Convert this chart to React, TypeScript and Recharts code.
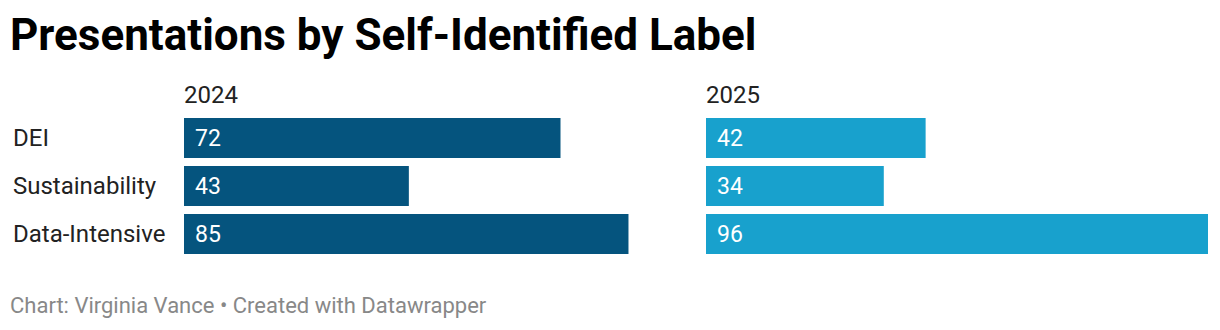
import { BarChart, Bar, XAxis, YAxis, LabelList } from 'recharts';

const categories = ['DEI', 'Sustainability', 'Data-Intensive'];
const values2024 = [72, 43, 85];
const values2025 = [42, 34, 96];
const years = ['2024', '2025'];

const COLORS = ['#05547e', '#18a1cd'];
const FONT = 'Roboto, sans-serif';

const data = categories.map((name, i) => ({
  name,
  y2024: values2024[i],
  y2025: values2025[i],
}));

const LeftTick = ({ y, payload }: { y?: number; payload?: { value: string } }) => (
  <text
    x={13}
    y={y}
    dy={8}
    textAnchor='start'
    fill='#222'
    fontSize={24}
    fontFamily={FONT}
  >
    {payload?.value}
  </text>
);

function Panel({
  dataKey,
  color,
  width,
  showLabels,
}: {
  dataKey: string;
  color: string;
  width: number;
  showLabels: boolean;
}) {
  return (
    <BarChart
      width={width}
      height={144}
      data={data}
      layout='vertical'
      margin={{ top: 0, right: 0, bottom: 0, left: 0 }}
      barCategoryGap={4}
    >
      <XAxis type='number' domain={[0, 96]} hide />
      <YAxis
        type='category'
        dataKey='name'
        width={showLabels ? 184 : 0}
        hide={!showLabels}
        axisLine={false}
        tickLine={false}
        tick={<LeftTick />}
      />
      <Bar dataKey={dataKey} fill={color} barSize={40} isAnimationActive={false}>
        <LabelList
          dataKey={dataKey}
          position='insideLeft'
          offset={11}
          fill='#fff'
          fontSize={23}
          fontFamily={FONT}
        />
      </Bar>
    </BarChart>
  );
}

export default function App() {
  return (
    <div
      style={{
        position: 'absolute',
        left: 0,
        top: 0,
        width: 1220,
        height: 330,
        background: '#fff',
        fontFamily: FONT,
        overflow: 'hidden',
        lineHeight: 'normal',
      }}
    >
      <div
        style={{
          position: 'absolute',
          left: 10,
          top: 9,
          fontSize: 44,
          fontWeight: 700,
          color: '#000',
          whiteSpace: 'nowrap',
        }}
      >
        Presentations by Self-Identified Label
      </div>
      <div style={{ position: 'absolute', left: 184, top: 81, fontSize: 24, color: '#222' }}>
        {years[0]}
      </div>
      <div style={{ position: 'absolute', left: 706, top: 81, fontSize: 24, color: '#222' }}>
        {years[1]}
      </div>
      <div style={{ position: 'absolute', left: 0, top: 114 }}>
        <Panel dataKey='y2024' color={COLORS[0]} width={686} showLabels />
      </div>
      <div style={{ position: 'absolute', left: 706, top: 114 }}>
        <Panel dataKey='y2025' color={COLORS[1]} width={502} showLabels={false} />
      </div>
      <div
        style={{
          position: 'absolute',
          left: 10,
          top: 293,
          fontSize: 22,
          color: '#888',
          whiteSpace: 'nowrap',
        }}
      >
        Chart: Virginia Vance • Created with Datawrapper
      </div>
    </div>
  );
}
